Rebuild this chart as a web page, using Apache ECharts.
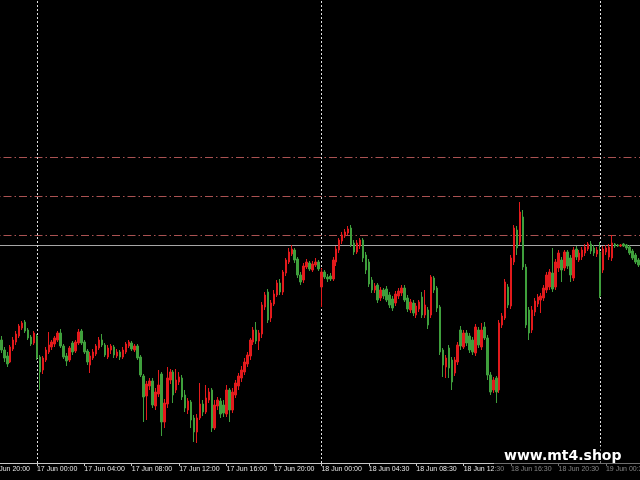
<!DOCTYPE html>
<html>
<head>
<meta charset="utf-8">
<script src="https://cdn.jsdelivr.net/npm/echarts@6/dist/echarts.min.js"></script>
<style>
html,body{margin:0;padding:0;background:#000;overflow:hidden;width:640px;height:480px;}
#chart{position:absolute;left:-12px;top:0;width:652px;height:480px;max-width:none;}
</style>
</head>
<body>
<div id="chart"></div>
<script>
// Tick labels along the time axis (every 16 bars of M15)
const tickLabels = ['16 Jun 20:00','17 Jun 00:00','17 Jun 04:00','17 Jun 08:00','17 Jun 12:00','17 Jun 16:00','17 Jun 20:00','18 Jun 00:00','18 Jun 04:30','18 Jun 08:30','18 Jun 12:30','18 Jun 16:30','18 Jun 20:30','19 Jun 00:30'];
// Day separators (vertical dotted lines)
const daySeparators = ['17 Jun 00:00','18 Jun 00:00','19 Jun 00:00'];
// Horizontal dash-dot levels and the bid price line (price points)
const levels = [306, 267, 228];
const bidLine = 218;
// Bars before the first visible candle (scrolled off the left edge, carry the 16 Jun 20:00 label)
const leadBars = 4;
// OHLC rows: [open, close, low, high] (price points), from 16 Jun 21:00, M15
const ohlc = [
[123,113,110,127],[113,105,101,116],[107,99,96,111],[101,116,100,118],[114,123,112,126],
[121,129,118,132],[127,137,125,139],[135,140,133,142],[141,132,130,143],[133,125,123,135],
[126,119,117,128],[120,130,118,132],[127,105,103,129],[106,91,73,108],[93,105,89,107],
[103,113,101,116],[111,118,109,131],[116,121,113,123],[119,125,116,127],[123,130,121,132],
[130,117,115,134],[117,106,104,119],[107,102,97,110],[103,115,101,117],[120,111,108,122],
[112,121,110,123],[120,131,118,134],[132,120,118,134],[121,111,109,123],[112,101,98,114],
[98,107,90,111],[105,111,103,114],[109,117,107,119],[115,123,113,126],[123,118,116,129],
[118,108,106,120],[106,115,104,118],[113,117,109,119],[116,108,105,118],[107,111,105,114],
[111,106,103,113],[106,113,104,116],[111,119,109,121],[117,121,115,123],[120,114,112,122],
[113,117,111,119],[117,105,103,119],[106,88,86,108],[87,66,41,89],[67,79,43,82],
[77,82,73,85],[82,58,55,85],[57,71,53,75],[69,78,66,93],[89,41,27,91],
[41,60,35,64],[59,85,55,96],[83,91,79,94],[91,68,60,93],[73,83,70,94],
[81,86,78,91],[85,66,63,88],[68,55,51,73],[53,62,49,65],[61,43,35,63],
[45,31,21,48],[31,45,20,49],[45,59,43,80],[59,51,47,63],[51,65,49,78],
[63,71,60,75],[73,35,31,75],[35,58,33,63],[57,63,53,66],[62,49,45,65],
[58,50,46,63],[49,73,46,78],[73,53,41,75],[53,71,50,75],[68,80,65,83],
[77,87,73,90],[85,93,81,97],[91,101,88,105],[99,108,96,111],[107,123,103,125],
[121,133,118,136],[133,122,119,141],[122,130,113,133],[129,158,125,161],[156,168,153,171],
[171,143,140,174],[145,160,141,163],[159,169,157,173],[168,180,166,183],[180,171,168,184],
[171,191,168,193],[190,203,187,205],[201,211,199,215],[209,214,207,218],[213,203,200,215],
[204,188,185,206],[188,181,178,191],[183,197,180,200],[196,201,194,204],[200,194,192,202],
[193,199,191,202],[198,201,196,205],[201,194,192,203],[176,191,156,195],[191,186,184,193],
[186,184,181,189],[187,184,182,190],[184,203,182,206],[201,214,197,217],[213,223,210,225],
[222,228,219,231],[227,231,225,234],[230,234,228,237],[235,218,216,238],[220,211,208,223],
[211,220,209,223],[217,223,214,225],[223,205,201,225],[208,193,189,211],[201,179,176,204],
[183,173,170,186],[173,177,170,180],[178,163,160,180],[165,173,162,176],[173,167,164,175],
[174,163,161,177],[168,158,155,171],[164,155,152,167],[160,169,157,172],[167,172,164,175],
[170,175,167,178],[175,163,161,178],[165,154,151,168],[153,161,150,164],[160,150,147,163],
[148,157,145,160],[154,161,151,163],[166,148,145,171],[148,158,145,173],[153,138,134,156],
[148,186,145,188],[185,173,170,187],[175,155,151,177],[156,111,108,158],[113,98,86,115],
[96,105,85,108],[115,95,85,118],[103,81,73,106],[90,103,87,106],[101,118,98,121],
[133,117,113,137],[116,130,114,133],[130,120,117,133],[127,113,110,130],[123,111,108,126],
[110,136,107,139],[133,118,115,136],[116,133,113,140],[136,125,123,141],[125,88,83,128],
[88,71,68,91],[73,83,70,86],[85,71,60,87],[73,140,70,143],[138,147,135,150],
[145,181,143,184],[176,158,155,179],[157,205,154,208],[201,235,198,238],[233,215,208,237],
[221,251,218,261],[246,196,193,253],[196,138,135,199],[153,130,123,156],[133,153,130,157],
[151,162,147,165],[159,166,156,169],[163,167,150,170],[165,175,162,178],[173,188,170,191],
[176,191,173,194],[190,174,171,215],[176,201,173,204],[195,210,191,213],[203,193,181,206],
[195,211,192,213],[211,197,194,213],[205,188,181,208],[185,213,182,216],[214,206,203,217],
[203,210,201,213],[206,213,203,216],[210,216,207,219],[214,219,212,221],[219,212,209,222],
[215,210,207,218],[209,213,206,216],[211,167,165,221],[193,214,190,217],[211,215,208,218],
[206,216,203,219],[205,220,202,228],[219,217,215,220],[218,217,216,219],[217,218,216,219],
[219,217,216,220],[218,215,213,219],[216,210,208,218],[212,205,203,214],[208,201,199,210],
[203,198,196,205]
];

// Bar time categories (M15, the 00:15/00:30 bars are missing on 18 Jun)
const months = ['Jan','Feb','Mar','Apr','May','Jun','Jul','Aug','Sep','Oct','Nov','Dec'];
function fmt(d){
  const p = n => (n<10?'0':'')+n;
  return d.getUTCDate()+' '+months[d.getUTCMonth()]+' '+p(d.getUTCHours())+':'+p(d.getUTCMinutes());
}
const categories = [];
let t = Date.UTC(2019,5,16,20,0);
const nBars = leadBars + ohlc.length;
while (categories.length < nBars) {
  const s = fmt(new Date(t));
  if (s !== '18 Jun 00:15' && s !== '18 Jun 00:30') categories.push(s);
  t += 15*60*1000;
}
const seriesData = [];
for (let i=0;i<leadBars;i++) seriesData.push(['-','-','-','-']);
ohlc.forEach(r => seriesData.push(r));

const tickSet = new Set(tickLabels);
const showTick = (idx, val) => tickSet.has(val);

const off = 12; // container is shifted 12px to the left of the window
const chart = echarts.init(document.getElementById('chart'), null, {renderer:'canvas', width: 640 + off, height: 480});
chart.setOption({
  animation: false,
  backgroundColor: '#000000',
  grid: { left: 0, right: 0, top: 0, bottom: 17, containLabel: false, outerBoundsMode: 'none' },
  xAxis: {
    type: 'category',
    data: categories,
    boundaryGap: true,
    axisLine: { lineStyle: { color: '#c8c8c8', width: 1 } },
    axisTick: { show: true, interval: showTick, alignWithLabel: true, length: 3, lineStyle: { color: '#c8c8c8' } },
    axisLabel: {
      interval: showTick, align: 'left', margin: 3, color: '#e6e6e6',
      fontSize: 7, fontFamily: "'Liberation Sans Narrow', 'Liberation Sans', Arial, sans-serif"
    },
    splitLine: { show: false }
  },
  yAxis: { type: 'value', min: 0, max: 463, show: false, splitLine: { show: false } },
  graphic: [
    { type: 'rect', z: 100, shape: { x: 494 + off, y: 446, width: 160, height: 34 }, style: { fill: 'rgba(0,0,0,0.45)' } },
    { type: 'text', z: 101, style: { x: 504 + off, y: 456, text: 'www.mt4.shop', fill: '#ffffff',
      font: 'bold 14px "DejaVu Sans", sans-serif', textAlign: 'left', textVerticalAlign: 'middle' } }
  ],
  series: [
    {
      type: 'line', data: [], silent: true, z: 1,
      markLine: {
        silent: true, symbol: ['none','none'], z: 1, animation: false,
        label: { show: false },
        data: [
          ...levels.map(v => ({ yAxis: v, lineStyle: { color: '#aa5252', width: 1, type: [8,3,1.5,3] } })),
          { yAxis: bidLine, lineStyle: { color: '#a6a6a6', width: 1, type: 'solid' } },
          ...daySeparators.map(c => ({ xAxis: c, lineStyle: { color: '#e0e0e0', width: 1, type: [2,2] } }))
        ]
      }
    },
    {
      type: 'candlestick',
      z: 3,
      barWidth: 2,
      data: seriesData,
      itemStyle: {
        color: '#e31a1c', color0: '#3f9f3c',
        borderColor: '#e31a1c', borderColor0: '#3f9f3c', borderWidth: 1
      }
    }
  ]
});
</script>
</body>
</html>
